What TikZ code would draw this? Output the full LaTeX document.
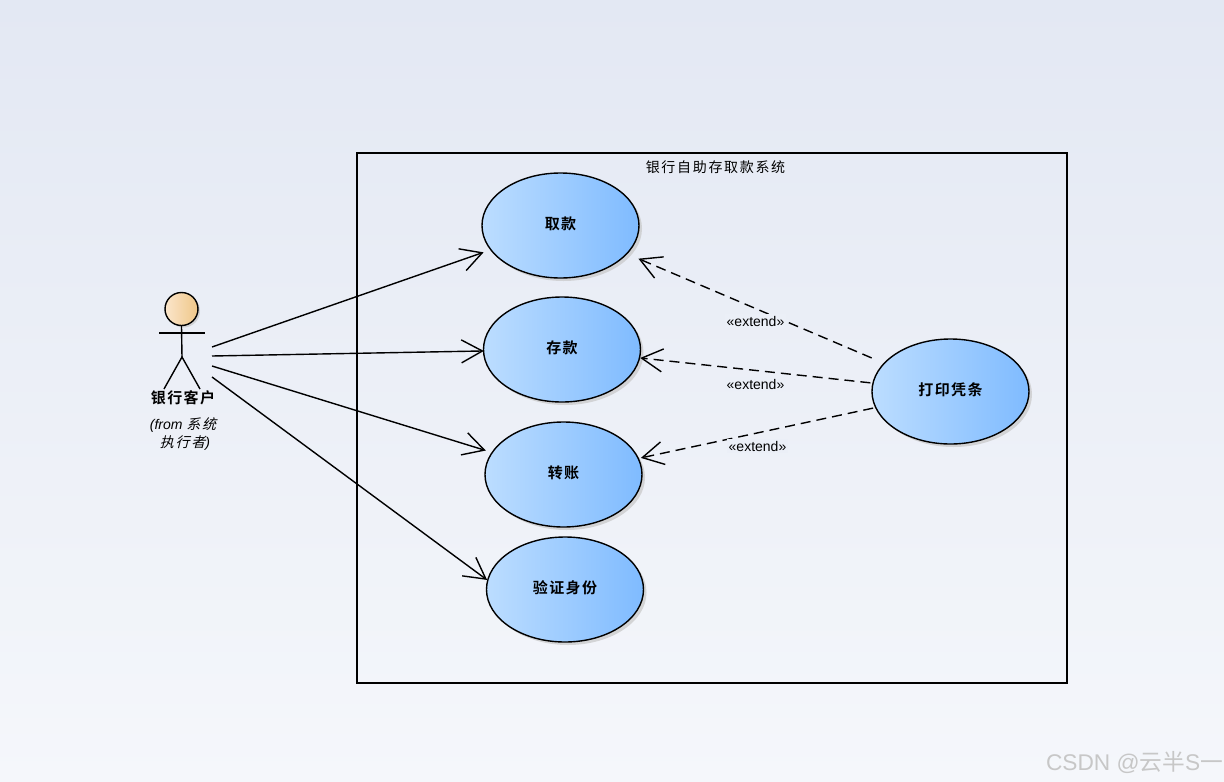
\documentclass[tikz,border=0pt]{standalone}
\usepackage{fontspec}
\usetikzlibrary{shapes.geometric,shadows,arrows.meta}
\setmainfont{Liberation Sans}
\newfontfamily\cjk[LetterSpace=12,AutoFakeSlant=0.25]{Noto Sans CJK SC}
\newfontfamily\cjkb[LetterSpace=9]{Noto Sans CJK SC Bold}
\newfontfamily\cjkw{Noto Sans CJK SC}
\definecolor{bgtop}{HTML}{E3E8F3}
\definecolor{bgbot}{HTML}{F5F7FB}
\definecolor{bgmid}{HTML}{EBEFF7}
\definecolor{ucleft}{HTML}{BCDDFF}
\definecolor{ucright}{HTML}{7FBBFF}
\definecolor{headl}{HTML}{FBE6CB}
\definecolor{headr}{HTML}{EFC688}
\newcommand{\uctext}[1]{\raisebox{1pt}[\dimexpr\height-1pt\relax][\dimexpr\depth+1pt\relax]{#1}}
\tikzset{
  usecase/.style={ellipse,draw=black,line width=1.4pt,minimum width=157pt,minimum height=105pt,inner sep=0pt,
    left color=ucleft,right color=ucright,drop shadow={shadow xshift=3pt,shadow yshift=-3pt,fill=black!22,opacity=.7},
    font=\cjkb\fontsize{15pt}{17pt}\selectfont},
  assoc/.style={line width=1.4pt,-{Straight Barb[length=21pt,width=23pt,line width=1.4pt]}},
  ext/.style={assoc,dashed,dash pattern=on 10pt off 6pt},
  extlab/.style={fill=bgmid,inner sep=1.5pt,font=\fontsize{14pt}{16pt}\selectfont},
  actorline/.style={line width=1.4pt},
}
\begin{document}
\begin{tikzpicture}[x=1pt,y=-1pt]
\useasboundingbox (0,0) rectangle (1224,782);
\shade[top color=bgtop,bottom color=bgbot] (0,0) rectangle (1224,782);
\node[draw=black,line width=1.05pt,minimum width=710pt,minimum height=530pt,inner sep=0pt] (sys) at (712,418) {};
\node[font=\cjk\fontsize{14pt}{16pt}\selectfont] (title) at (715.5,167) {银行自助存取款系统};

\node[usecase] (qk) at (560.5,225.5) {\uctext{取款}};
\node[usecase] (ck) at (562,349.5) {\uctext{存款}};
\node[usecase] (zz) at (563.5,474.5) {\uctext{转账}};
\node[usecase] (yz) at (565,589.5) {\uctext{验证身份}};
\node[usecase] (dy) at (950.5,391.5) {\uctext{打印凭条}};

% actor
\node[circle,draw=black,line width=1.4pt,minimum size=33pt,inner sep=0pt,left color=headl,right color=headr,
  drop shadow={shadow xshift=2pt,shadow yshift=-2pt,fill=black!22,opacity=.7}] (head) at (181.5,309) {};
\coordinate (armL) at (159,333);
\coordinate (armR) at (205,333);
\coordinate (hip) at (182,357);
\coordinate (legL) at (164,389);
\coordinate (legR) at (200,389);
\draw[actorline] (head.south) -- (hip);
\draw[actorline,line width=1.2pt] (armL) -- (armR);
\draw[actorline] (legL) -- (hip) -- (legR);
\node[font=\cjkb\fontsize{15pt}{17pt}\selectfont] (aname) at (183,397.5) {银行客户};
\node[font=\fontsize{14pt}{16pt}\selectfont\itshape] (afrom) at (183,425) {(from {\cjk\itshape 系统}};
\node[font=\fontsize{14pt}{16pt}\selectfont\itshape] (afrom2) at (185,443) {{\cjk\itshape 执行者})};

\coordinate (a1) at (212,347);
\coordinate (a2) at (212,356);
\coordinate (a3) at (212,366);
\coordinate (a4) at (212,377);
\draw[assoc,shorten >=7pt] (a1) -- (qk);
\draw[assoc,shorten >=-1pt] (a2) -- (ck);
\draw[assoc,shorten >=6pt] (a3) -- (zz);
\draw[assoc] (a4) -- (yz.173);

\draw[ext,shorten >=12pt,shorten <=13pt] (dy) -- (qk);
\draw[ext,shorten <=2pt] (dy) -- (ck);
\draw[ext,shorten <=2pt,shorten >=2pt] (dy) -- (zz);

\node[extlab] (l1) at (755.5,321) {«extend»};
\node[extlab] (l2) at (755.5,384) {«extend»};
\node[extlab] (l3) at (757.5,446) {«extend»};

\node[text=black!22,font=\fontsize{22.7pt}{25pt}\selectfont] (wm) at (1134.5,763) {CSDN @{\cjkw 云半}S{\cjkw 一}};
\end{tikzpicture}
\end{document}
